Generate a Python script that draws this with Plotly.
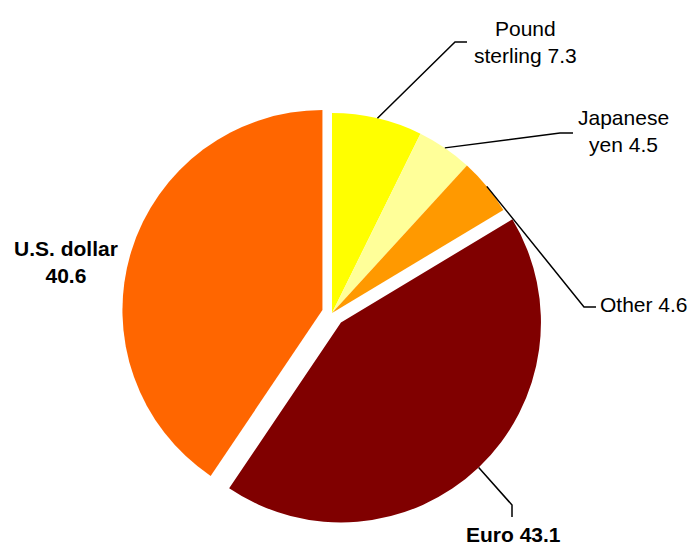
import numpy as np
import plotly.graph_objects as go

# Currency shares (percent)
currencies = ["Pound sterling", "Japanese yen", "Other", "Euro", "U.S. dollar"]
shares = [7.3, 4.5, 4.6, 43.1, 40.6]

# Label text split over lines (value appended on the last line)
label_lines = [["Pound", "sterling"], ["Japanese", "yen"], ["Other"], ["Euro"], ["U.S. dollar", ""]]
label_bold = [False, False, False, True, True]

# Styling
slice_colors = ["#FFFF00", "#FFFF99", "#FF9900", "#800000", "#FF6600"]
slice_pull = [0, 0, 0, 0.065, 0.05]
FONT = "Liberation Sans, Arial, sans-serif"
FONT_SIZE = 21

W, H = 691, 547
CX, CY = 332, 313   # pie centre (px)
R = 200             # pie radius (px)

max_pull = max(slice_pull)
half = R * (1 + max_pull)
dom_x = [(CX - half) / W, (CX + half) / W]
dom_y = [1 - (CY + half) / H, 1 - (CY - half) / H]


def px_to_paper(x, y):
    return x / W, 1 - y / H


fig = go.Figure(
    go.Pie(
        labels=currencies,
        values=shares,
        sort=False,
        direction="clockwise",
        rotation=0,
        pull=slice_pull,
        marker=dict(colors=slice_colors, line=dict(width=0)),
        textinfo="none",
        hoverinfo="label+value",
        domain=dict(x=dom_x, y=dom_y),
        showlegend=False,
    )
)

# Mid-angle of every slice, clockwise from 12 o'clock
vals = np.array(shares, dtype=float)
frac = vals / vals.sum()
ends = np.cumsum(frac) * 360.0
mids = np.radians(ends - frac * 180.0)

# Label placement: text centre (px), anchor, elbow and end of leader (px)
label_pos = [(525, 42), (623, 131), (598, 304), (513, 534), (66, 262)]
label_anchor = ["center", "center", "left", "center", "center"]
leader_elbow = [
    [(455, 42), (467, 42)],
    [(560, 133), (573, 133)],
    [(584, 307), (596, 307)],
    [(512, 505), (512, 517)],
    None,
]

shapes = []
annotations = []
for i, name in enumerate(currencies):
    lines = list(label_lines[i])
    lines[-1] = (lines[-1] + " " if lines[-1] else "") + f"{shares[i]}"
    text = "<br>".join(lines)
    if label_bold[i]:
        text = "<b>" + text + "</b>"
    lx, ly = px_to_paper(*label_pos[i])
    annotations.append(
        dict(
            x=lx, y=ly, xref="paper", yref="paper",
            text=text, showarrow=False,
            xanchor=label_anchor[i], yanchor="middle", align="center",
            font=dict(family=FONT, size=FONT_SIZE, color="#000000"),
        )
    )
    if leader_elbow[i] is not None:
        rr = R * (1 + slice_pull[i])
        ax = CX + rr * np.sin(mids[i])
        ay = CY - rr * np.cos(mids[i])
        pts = [(ax, ay)] + leader_elbow[i]
        path = ""
        for k, (px, py) in enumerate(pts):
            qx, qy = px_to_paper(px, py)
            path += ("M" if k == 0 else " L") + f"{qx:.5f},{qy:.5f}"
        shapes.append(
            dict(type="path", path=path, xref="paper", yref="paper",
                 line=dict(color="#000000", width=1.5))
        )

fig.update_layout(
    width=W, height=H,
    margin=dict(l=0, r=0, t=0, b=0),
    paper_bgcolor="#FFFFFF",
    plot_bgcolor="#FFFFFF",
    shapes=shapes,
    annotations=annotations,
    font=dict(family=FONT, size=FONT_SIZE),
)

fig.write_html("out.html")
